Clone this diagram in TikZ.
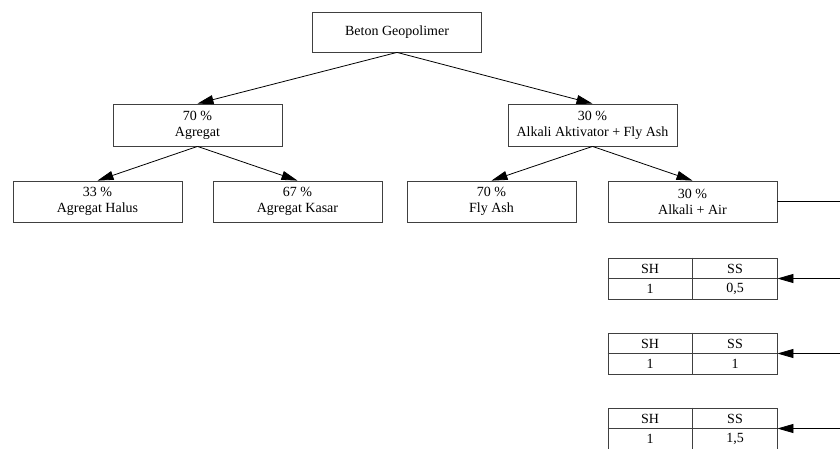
\documentclass[tikz,border=0pt]{standalone}
\usepackage{fontspec}
\setmainfont{Liberation Serif}
\usetikzlibrary{arrows.meta}
\begin{document}
\begin{tikzpicture}[x=1pt,y=-1pt,
  box/.style={draw=black!75,line width=0.8pt,minimum width=169pt,minimum height=41pt,inner sep=0pt,align=center,font=\fontsize{14}{16}\selectfont},
  tbl/.style={draw=black!75,line width=0.8pt,minimum width=169pt,minimum height=41pt,inner sep=0pt},
  cell/.style={font=\fontsize{14}{16}\selectfont,inner sep=0pt},
  arr/.style={-{Triangle[length=16pt,width=9pt]},line width=0.8pt,shorten >=0pt},
  ln/.style={line width=0.8pt}]
\useasboundingbox (0,0) rectangle (840,448);
\node[box,minimum height=40pt] (root) at (397,32) {Beton Geopolimer};
\node[box,minimum height=42pt] (agg) at (197.5,125) {70 \%\\Agregat};
\node[box,minimum height=42pt] (alk) at (592.5,125) {30 \%\\Alkali Aktivator + Fly Ash};
\node[box] (hal) at (97.5,201.5) {33 \%\\Agregat Halus};
\node[box] (kas) at (297.5,201.5) {67 \%\\Agregat Kasar};
\node[box] (fly) at (491.5,201.5) {70 \%\\Fly Ash};
\node[box] (air) at (692.5,201.5) {30 \%\\Alkali + Air};
\draw[arr] (root.south) -- (agg.north);
\draw[arr] (root.south) -- (alk.north);
\draw[arr] (agg.south) -- (hal.north);
\draw[arr] (agg.south) -- (kas.north);
\draw[arr] (alk.south) -- (fly.north);
\draw[arr] (alk.south) -- (air.north);
\coordinate (e0) at (840,201.5);
\draw[ln] (air.east) -- (e0);
\foreach \i/\y/\v in {1/278.5/{0,5},2/353.5/1,3/428.5/{1,5}}{
  \node[tbl] (t\i) at (692.5,\y) {};
  \draw[ln,draw=black!75] (t\i.west) -- (t\i.east);
  \draw[ln,draw=black!75] (t\i.north) -- (t\i.south);
  \node[cell] (sh\i) at (650,\y-10) {SH};
  \node[cell] (ss\i) at (735,\y-10) {SS};
  \node[cell] (a\i) at (650,\y+10) {1};
  \node[cell] (b\i) at (735,\y+10) {\v};
  \coordinate (e\i) at (840,\y);
  \draw[arr] (e\i) -- (t\i.east);
}
\end{tikzpicture}
\end{document}
